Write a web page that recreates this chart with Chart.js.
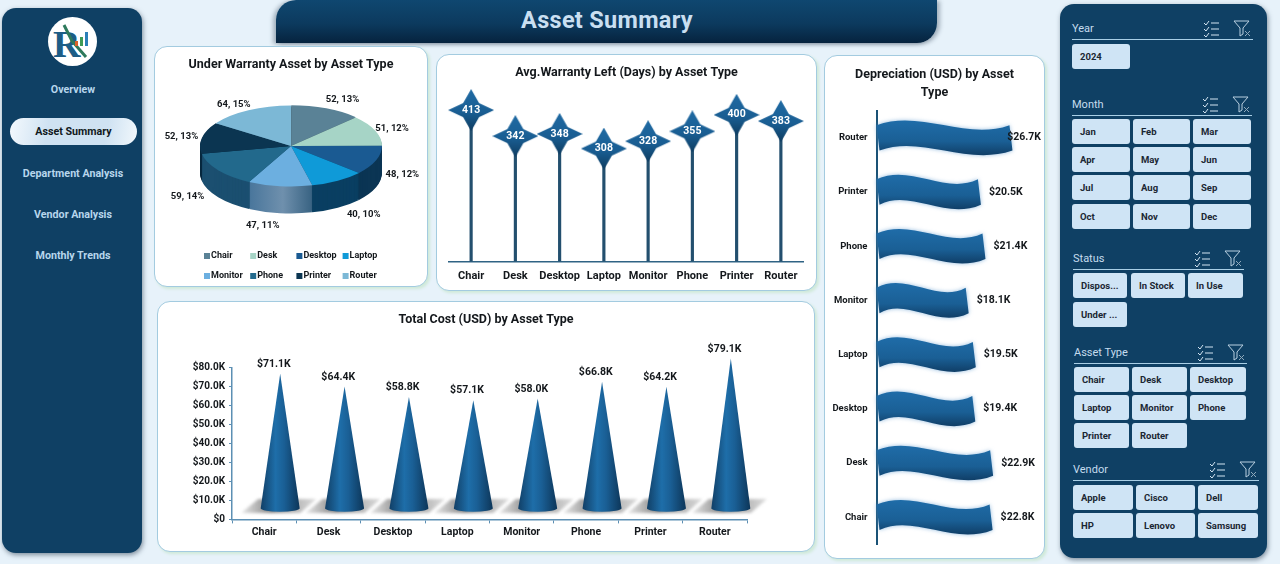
<!DOCTYPE html>
<html>
<head>
<meta charset="utf-8">
<title>Asset Summary</title>
<script src="https://cdn.jsdelivr.net/npm/chart.js@4"></script>
<style>
  * { box-sizing: border-box; }
  html, body { margin: 0; padding: 0; }
  body { width: 1280px; height: 564px; overflow: hidden; position: relative; background: #e7f2fa; font-family: Roboto, sans-serif; }
  .abs { position: absolute; }
  .panel { position: absolute; background: #0f4064; border-radius: 14px; box-shadow: 1px 2px 5px rgba(40,60,80,.55); }
  .header { left: 276px; top: 0; width: 661px; height: 43px; background: linear-gradient(180deg, #0f4770 0%, #0c3a5e 55%, #06233e 100%); border-radius: 20px 0 20px 0; box-shadow: -3px 1px 4px rgba(40,60,80,.35), 3px 1px 4px rgba(40,60,80,.35); }
  .header-text { left: 275px; top: 3px; width: 664px; text-align: center; font-size: 23.5px; font-weight: 700; color: #c9dff1; line-height: 34px; letter-spacing: .3px; }
  .card { position: absolute; background: #fff; border: 1px solid #a3cbe0; border-radius: 13px; box-shadow: 2px 2px 3px #cfe9d8; }
  .card canvas { position: absolute; left: -1px; top: -1px; }
  .nav { position: absolute; left: 3px; width: 140px; text-align: center; font-size: 10.7px; font-weight: 700; color: #b7d6ec; line-height: 14px; }
  .pill { position: absolute; left: 10px; top: 118px; width: 127px; height: 27px; border-radius: 14px; background: linear-gradient(100deg, #f4f9fd 0%, #cfe2f2 30%, #cfe2f2 75%, #f2f8fc 100%); text-align: center; font-size: 10.7px; font-weight: 700; color: #101820; line-height: 27px; }
  .logo { position: absolute; left: 48px; top: 17px; }
  .slicer-title { position: absolute; font-size: 11px; color: #c5dcee; line-height: 14px; }
  .slicer-line { position: absolute; height: 1px; background: #a9cfe6; }
  .slicer-btn { position: absolute; height: 25px; background: #cfe4f5; border-radius: 3px; font-size: 9.5px; font-weight: 700; color: #1b2733; line-height: 25px; padding-left: 8px; white-space: nowrap; }
  .slicer-icon { position: absolute; }
</style>
</head>
<body>
<div class="panel" style="left:2px;top:8px;width:140px;height:545px"></div>
<svg class="logo" width="49" height="49" viewBox="0 0 49 49">
  <circle cx="24.5" cy="24.5" r="24.5" fill="#fff"/>
  <text x="5" y="40" font-family="Liberation Serif" font-size="38" font-weight="700" fill="#1d5d86">R</text>
  <path d="M16 8 L24 24 L38 40" fill="none" stroke="#2e7a5c" stroke-width="3"/>
  <rect x="27" y="24" width="3" height="5" fill="#d9622b"/>
  <rect x="32" y="20" width="3" height="9" fill="#3f9a55"/>
  <rect x="37" y="15" width="3" height="14" fill="#2b7fb8"/>
</svg>
<div class="nav" style="top:83px">Overview</div>
<div class="pill">Asset Summary</div>
<div class="nav" style="top:167px">Department Analysis</div>
<div class="nav" style="top:208px">Vendor Analysis</div>
<div class="nav" style="top:249px">Monthly Trends</div>

<div class="abs header"></div>
<div class="abs header-text">Asset Summary</div>

<div class="card" style="left:154px;top:46px;width:274px;height:241px"><canvas id="pieChart" width="274" height="241"></canvas></div>
<div class="card" style="left:436px;top:54px;width:381px;height:237px"><canvas id="warrantyChart" width="381" height="237"></canvas></div>
<div class="card" style="left:157px;top:301px;width:658px;height:251px"><canvas id="costChart" width="658" height="251"></canvas></div>
<div class="card" style="left:824px;top:55px;width:221px;height:504px"><canvas id="deprChart" width="221" height="504"></canvas></div>

<div class="panel" style="left:1060px;top:4px;width:207px;height:554px" id="slicers"></div>

<script>
// ─── data ────────────────────────────────────────────────────────────────────
const ASSET_TYPES   = ['Chair', 'Desk', 'Desktop', 'Laptop', 'Monitor', 'Phone', 'Printer', 'Router'];
const UNDER_WARRANTY = [52, 51, 48, 40, 47, 59, 52, 64];
const WARRANTY_DAYS  = [413, 342, 348, 308, 328, 355, 400, 383];
const TOTAL_COST     = [71100, 64400, 58800, 57100, 58000, 66800, 64200, 79100];
const DEPRECIATION   = [22800, 22900, 19400, 19500, 18100, 21400, 20500, 26700];
const COST_TICKS_MAX = 80000;
const COST_TICK_STEP = 10000;

// slice colours: top face, then the darker side wall
const PIE_TOP  = ['#5a8296', '#a6d4c6', '#1a5a92', '#0f9ad8', '#6cafe0', '#22698c', '#0b3551', '#7cb8d6'];
const PIE_SIDE = ['#3c5a68', '#6f9488', '#0b3554', '#0a3f62', '#4d7da4', '#1b4f70', '#08283e', '#4f7f99'];

const FONT = 'Roboto, sans-serif';
const INK  = '#14181c';
const fmtK = n => n === 0 ? '$0' : '$' + (n / 1000).toFixed(1) + 'K';

Chart.defaults.animation = false;
Chart.defaults.font.family = FONT;
Chart.defaults.color = INK;
Chart.defaults.plugins.legend.display = false;
Chart.defaults.plugins.tooltip.enabled = false;

const titleOpts = (text, padBottom, lineHeight = 1.2) => ({
  display: true, text, color: INK, padding: { top: 11, bottom: padBottom },
  font: { family: FONT, size: 12.5, weight: '700', lineHeight },
});
const tickFont = { family: FONT, size: 10.5, weight: '700' };

// title spans the whole card, whatever padding the plot uses
const cardTitle = {
  id: 'cardTitle',
  afterLayout(chart) {
    const t = chart.titleBlock;
    t.left = 0; t.right = chart.width; t.width = chart.width;
  },
};
Chart.register(cardTitle);

// ─── 3D pie ──────────────────────────────────────────────────────────────────
const PIE_SQUASH = 0.445, PIE_DEPTH = 27, PIE_FACE_Y = 100;
const PIE_LABEL_NUDGE = [[6, 0], [-8, 2], [1, 0], [12, 0], [-14, 0], [-9, 3], [6, 1], [-2, 3]];

const pieTilt = {
  id: 'pieTilt',
  beforeDatasetsDraw(chart) {
    const { ctx } = chart;
    const arcs = chart.getDatasetMeta(0).data;
    const cy = arcs[0].y;
    // monitor wall catches the light, the others are flat
    const sheen = ctx.createLinearGradient(arcs[0].x - 50, 0, arcs[0].x + 26, 0);
    sheen.addColorStop(0, '#3f6f97');
    sheen.addColorStop(0.55, '#6f90ad');
    sheen.addColorStop(1, '#2f5b7b');
    ctx.save();
    ctx.translate(0, PIE_FACE_Y);
    ctx.scale(1, PIE_SQUASH);
    ctx.translate(0, -cy);
    // side wall: stack of darker copies below the top face
    for (let d = PIE_DEPTH; d >= 1; d--) {
      ctx.save();
      ctx.translate(0, d / PIE_SQUASH);
      arcs.forEach((arc, i) => {
        const base = arc.options;
        arc.options = { ...base, backgroundColor: i === 4 ? sheen : PIE_SIDE[i] };
        arc.draw(ctx);
        arc.options = base;
      });
      ctx.restore();
    }
  },
  afterDatasetsDraw(chart) {
    chart.ctx.restore();
  },
  afterDraw(chart) {
    const { ctx } = chart;
    const arcs = chart.getDatasetMeta(0).data;
    const total = UNDER_WARRANTY.reduce((a, b) => a + b, 0);
    ctx.save();
    ctx.font = `700 9.5px ${FONT}`;
    ctx.fillStyle = INK;
    ctx.textAlign = 'center';
    ctx.textBaseline = 'middle';
    arcs.forEach((arc, i) => {
      const mid = (arc.startAngle + arc.endAngle) / 2;
      const cos = Math.cos(mid), sin = Math.sin(mid);
      const lx = arc.x + 118 * cos + PIE_LABEL_NUDGE[i][0];
      const ly = PIE_FACE_Y + (sin < 0 ? 50 : 80) * sin + PIE_LABEL_NUDGE[i][1];
      ctx.fillText(`${UNDER_WARRANTY[i]}, ${Math.round(UNDER_WARRANTY[i] / total * 100)}%`, lx, ly);
    });
    // two-row legend in fixed columns
    ctx.textAlign = 'left';
    ctx.font = `700 9px ${FONT}`;
    ASSET_TYPES.forEach((name, i) => {
      const x = 50 + (i % 4) * 46.2, y = i < 4 ? 210 : 230;
      ctx.fillStyle = PIE_TOP[i];
      ctx.fillRect(x, y - 3, 6, 6);
      ctx.fillStyle = INK;
      ctx.fillText(name, x + 7, y);
    });
    ctx.restore();
  },
};

new Chart(document.getElementById('pieChart'), {
  type: 'pie',
  data: {
    labels: ASSET_TYPES,
    datasets: [{
      data: UNDER_WARRANTY, backgroundColor: PIE_TOP, borderWidth: 0, clip: false,
      offset: [2, 0, 0, 0, 0, 0, 0, 0],
    }],
  },
  options: {
    responsive: false,
    layout: { padding: { left: 45, right: 45, top: 0, bottom: 10 } },
    plugins: { title: titleOpts('Under Warranty Asset by Asset Type', 2) },
  },
  plugins: [pieTilt],
});

// ─── lollipop with star heads ────────────────────────────────────────────────
function starSprite() {
  const c = document.createElement('canvas');
  c.width = 46; c.height = 42;
  const g = c.getContext('2d');
  const grad = g.createLinearGradient(0, 0, 0, 42);
  grad.addColorStop(0, '#1f6aa3');
  grad.addColorStop(0.55, '#1a5e93');
  grad.addColorStop(1, '#0e3c60');
  g.fillStyle = grad;
  g.beginPath();
  g.moveTo(23, 0);
  g.lineTo(31, 14); g.lineTo(46, 21); g.lineTo(31, 28);
  g.lineTo(23, 42);
  g.lineTo(15, 28); g.lineTo(0, 21); g.lineTo(15, 14);
  g.closePath();
  g.fill();
  return c;
}

const starLabels = {
  id: 'starLabels',
  afterDatasetsDraw(chart) {
    const { ctx } = chart;
    const pts = chart.getDatasetMeta(0).data;
    ctx.save();
    ctx.font = `700 10.5px ${FONT}`;
    ctx.fillStyle = '#fff';
    ctx.textAlign = 'center';
    ctx.textBaseline = 'middle';
    pts.forEach((p, i) => ctx.fillText(WARRANTY_DAYS[i], p.x, p.y));
    ctx.restore();
  },
};

new Chart(document.getElementById('warrantyChart'), {
  data: {
    labels: ASSET_TYPES,
    datasets: [
      { type: 'line', data: WARRANTY_DAYS, showLine: false, pointStyle: starSprite(), pointRadius: 21, order: 1, clip: false },
      { type: 'bar', data: WARRANTY_DAYS, backgroundColor: '#234f6e', barThickness: 2.5, order: 2 },
    ],
  },
  options: {
    responsive: false,
    layout: { autoPadding: false, padding: { left: 13, right: 14, top: 0, bottom: 0.4 } },
    plugins: { title: titleOpts('Avg.Warranty Left (Days) by Asset Type', 3) },
    scales: {
      x: {
        grid: { display: false, tickLength: 0 }, border: { color: '#2f6384', width: 1.5 },
        ticks: { font: { ...tickFont, size: 11 }, color: INK, padding: 8, maxRotation: 0, autoSkip: false },
      },
      y: { display: false, min: 0, max: 487 },
    },
  },
  plugins: [starLabels],
});

// ─── cones ───────────────────────────────────────────────────────────────────
const CONE_DX = 16, CONE_LIFT = 10.7, CONE_RX = 19.5, CONE_RY = 3.5;

const coneMarks = {
  id: 'coneMarks',
  afterDatasetsDraw(chart) {
    const { ctx } = chart;
    const bars = chart.getDatasetMeta(0).data;
    ctx.save();
    // floor shadows first so no cone sits under a neighbour's shadow
    bars.forEach(b => {
      const x = b.x, y = b.base;
      const shade = ctx.createLinearGradient(x - 22, 0, x + 52, 0);
      shade.addColorStop(0, 'rgba(110,110,110,.2)');
      shade.addColorStop(0.4, 'rgba(85,85,85,.75)');
      shade.addColorStop(1, 'rgba(150,150,150,.35)');
      ctx.save();
      ctx.filter = 'blur(1.5px)';
      ctx.fillStyle = shade;
      ctx.beginPath();
      ctx.moveTo(x - 23, y - 6);
      ctx.lineTo(x - 6, y - 20);
      ctx.lineTo(x + 52, y - 20);
      ctx.lineTo(x + 36, y - 6);
      ctx.closePath();
      ctx.fill();
      ctx.restore();
    });
    ctx.font = tickFont.weight + ' ' + tickFont.size + 'px ' + FONT;
    ctx.textAlign = 'center';
    ctx.textBaseline = 'middle';
    bars.forEach((b, i) => {
      const x = b.x + CONE_DX, tip = b.y - CONE_LIFT, foot = b.base - CONE_LIFT;
      const grad = ctx.createLinearGradient(x - CONE_RX, 0, x + CONE_RX, 0);
      grad.addColorStop(0, '#113f66');
      grad.addColorStop(0.38, '#1e6ea9');
      grad.addColorStop(0.6, '#1a5f95');
      grad.addColorStop(1, '#0d3659');
      ctx.fillStyle = grad;
      ctx.beginPath();
      ctx.moveTo(x, tip);
      ctx.lineTo(x + CONE_RX, foot);
      ctx.ellipse(x, foot, CONE_RX, CONE_RY, 0, 0, Math.PI);
      ctx.closePath();
      ctx.fill();
      ctx.fillStyle = INK;
      ctx.fillText(fmtK(TOTAL_COST[i]), b.x + 9.7, tip - 9.5);
    });
    ctx.restore();
  },
};

new Chart(document.getElementById('costChart'), {
  type: 'bar',
  data: { labels: ASSET_TYPES, datasets: [{ data: TOTAL_COST, backgroundColor: 'rgba(0,0,0,0)' }] },
  options: {
    responsive: false,
    layout: { padding: { left: 0, right: 68, top: 0, bottom: 10 } },
    plugins: { title: titleOpts('Total Cost (USD) by Asset Type', 40.5) },
    scales: {
      x: {
        grid: { drawOnChartArea: false, color: '#5c8fb3', tickLength: 4 },
        border: { color: '#5c8fb3', width: 1.5 },
        ticks: { font: tickFont, color: INK, padding: 3, maxRotation: 0, autoSkip: false },
      },
      y: {
        min: 0, max: COST_TICKS_MAX,
        afterFit: s => { s.width = 75; },
        grid: { drawOnChartArea: false, color: '#5c8fb3', tickLength: 3 },
        border: { color: '#5c8fb3', width: 1.5 },
        ticks: { stepSize: COST_TICK_STEP, font: { family: FONT, size: 10, weight: '700' }, color: INK, padding: 4, callback: fmtK },
      },
    },
  },
  plugins: [coneMarks],
});

// ─── wave bars ───────────────────────────────────────────────────────────────
const WAVE_HALF = 12.7, WAVE_SWING = 16, WAVE_SLANT = 3;

const waveMarks = {
  id: 'waveMarks',
  afterDatasetsDraw(chart) {
    const { ctx, chartArea } = chart;
    const bars = chart.getDatasetMeta(0).data;
    ctx.save();
    bars.forEach((b, i) => {
      const x0 = b.base, x1 = b.x, y = b.y, w = x1 - x0;
      const top = y - WAVE_HALF, bot = y + WAVE_HALF;
      const grad = ctx.createLinearGradient(0, y - 17, 0, y + 17);
      grad.addColorStop(0, '#1f6ca8');
      grad.addColorStop(0.6, '#1a5f95');
      grad.addColorStop(1, '#103f68');
      ctx.save();
      ctx.shadowColor = 'rgba(90,150,205,.65)';
      ctx.shadowBlur = 4;
      ctx.fillStyle = grad;
      ctx.beginPath();
      ctx.moveTo(x0, top);
      ctx.bezierCurveTo(x0 + w * 0.33, top - WAVE_SWING, x0 + w * 0.66, top + WAVE_SWING, x1 - WAVE_SLANT, top);
      ctx.lineTo(x1, bot);
      ctx.bezierCurveTo(x0 + w * 0.66, bot + WAVE_SWING, x0 + w * 0.33, bot - WAVE_SWING, x0 + WAVE_SLANT, bot);
      ctx.closePath();
      ctx.fill();
      ctx.restore();
      // value label sits past the bar end but stays inside the plot
      ctx.font = `700 10.5px ${FONT}`;
      ctx.fillStyle = INK;
      ctx.textAlign = 'right';
      ctx.textBaseline = 'middle';
      const text = fmtK(DEPRECIATION[i]);
      const wid = ctx.measureText(text).width;
      ctx.fillText(text, Math.min(x1 + 8 + wid, chartArea.right), y);
    });
    ctx.restore();
  },
};

new Chart(document.getElementById('deprChart'), {
  type: 'bar',
  data: { labels: ASSET_TYPES, datasets: [{ data: DEPRECIATION, backgroundColor: 'rgba(0,0,0,0)' }] },
  options: {
    indexAxis: 'y',
    responsive: false,
    layout: { padding: { left: 0, right: 4, top: 0, bottom: 9 } },
    plugins: { title: titleOpts(['Depreciation (USD) by Asset', 'Type'], 8.5, 1.45) },
    scales: {
      x: { display: false, min: 0, max: 32300 },
      y: {
        reverse: true,
        afterFit: s => { s.width = 52.5; },
        grid: { display: false, tickLength: 0 },
        border: { color: '#1a5276', width: 2 },
        ticks: { font: { family: FONT, size: 9.5, weight: '700' }, color: INK, padding: 9, autoSkip: false },
      },
    },
  },
  plugins: [waveMarks],
});

// ─── slicer rail (static chrome) ─────────────────────────────────────────────
const CHECK_ICON = '<path d="M1 4l2 2 3-4M1 10l2 2 3-4M1 16l2 2 3-4" fill="none" stroke="#d3e4f1" stroke-width="1"/><path d="M8 4h8M8 10h8M8 16h8" stroke="#d3e4f1" stroke-width="1"/>';
const FUNNEL_ICON = '<path d="M1 2h15l-6 7v6l-3 2V9z" fill="none" stroke="#b9cfe0" stroke-width="1"/><path d="M12 12l5 5M17 12l-5 5" stroke="#8fa9bc" stroke-width="1"/>';

function addSlicer(title, x, y, lineW, icons, cols, rows, items) {
  const rail = document.body;
  const put = (cls, css, text) => {
    const d = document.createElement('div');
    d.className = cls;
    d.style.cssText = css;
    if (text) d.textContent = text;
    rail.appendChild(d);
  };
  put('slicer-title', `left:${x}px;top:${y - 6}px`, title);
  put('slicer-line', `left:${x}px;top:${y + 11}px;width:${lineW}px`);
  [[icons[0], CHECK_ICON], [icons[1], FUNNEL_ICON]].forEach(([ix, svg]) => {
    rail.insertAdjacentHTML('beforeend',
      `<svg class="slicer-icon" style="left:${ix - 9}px;top:${y - 9}px" width="19" height="19" viewBox="0 0 19 19">${svg}</svg>`);
  });
  items.forEach((label, i) => {
    const col = cols[i % cols.length];
    put('slicer-btn', `left:${col[0]}px;width:${col[1] - col[0]}px;top:${rows[Math.floor(i / cols.length)]}px`, label);
  });
}

addSlicer('Year', 1072, 28, 181, [1212, 1242], [[1072, 1130]], [44], ['2024']);
addSlicer('Month', 1072, 104, 180, [1211, 1241], [[1072, 1130], [1133, 1190], [1193, 1251]], [119, 147, 175, 204],
  ['Jan', 'Feb', 'Mar', 'Apr', 'May', 'Jun', 'Jul', 'Aug', 'Sep', 'Oct', 'Nov', 'Dec']);
addSlicer('Status', 1073, 258, 171, [1203, 1233], [[1073, 1127], [1131, 1185], [1188, 1243]], [273, 302],
  ['Dispos...', 'In Stock', 'In Use', 'Under ...']);
addSlicer('Asset Type', 1074, 352, 173, [1206, 1236], [[1074, 1129], [1132, 1187], [1190, 1246]], [367, 395, 423],
  ['Chair', 'Desk', 'Desktop', 'Laptop', 'Monitor', 'Phone', 'Printer', 'Router']);
addSlicer('Vendor', 1073, 469, 186, [1218, 1248], [[1073, 1133], [1136, 1195], [1198, 1258]], [485, 513],
  ['Apple', 'Cisco', 'Dell', 'HP', 'Lenovo', 'Samsung']);
</script>
</body>
</html>
